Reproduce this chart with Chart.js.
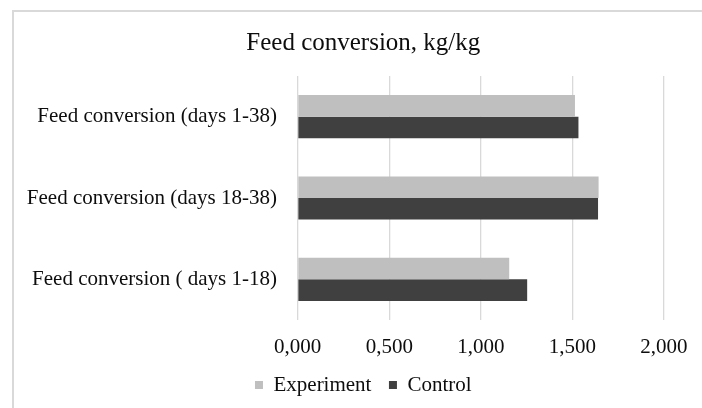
<!DOCTYPE html>
<html>
<head>
<meta charset="utf-8">
<script src="https://cdn.jsdelivr.net/npm/chart.js@4/dist/chart.umd.min.js"></script>
<style>
  html, body { margin: 0; padding: 0; background: #ffffff; }
  #wrap { position: relative; width: 702px; height: 408px; }
  #frame { position: absolute; left: 12px; top: 10px; right: 0; bottom: 0;
           border-left: 2px solid #d9d9d9; border-top: 2px solid #d9d9d9; pointer-events: none; }
  canvas { position: absolute; left: 0; top: 0; }
</style>
</head>
<body>
<div id="wrap">
  <canvas id="c" width="702" height="408"></canvas>
  <div id="frame"></div>
</div>
<script>
const titleText = 'Feed conversion, kg/kg';
const categories = ['Feed conversion (days 1-38)', 'Feed conversion (days 18-38)', 'Feed conversion ( days 1-18)'];
const seriesNames = ['Experiment', 'Control'];
const experimentValues = [1.514, 1.643, 1.155];
const controlValues = [1.533, 1.640, 1.253];
const xTickValues = [0, 0.5, 1.0, 1.5, 2.0];

const serif = "'Liberation Serif', 'Times New Roman', serif";
const textColor = '#0d0d0d';
const noClip = (s) => { s._computeLabelArea = () => undefined; };

new Chart(document.getElementById('c'), {
  type: 'bar',
  data: {
    labels: categories,
    datasets: [
      { label: seriesNames[0], data: experimentValues, backgroundColor: '#bfbfbf', borderWidth: 0,
        categoryPercentage: 0.53, barPercentage: 1.0 },
      { label: seriesNames[1], data: controlValues, backgroundColor: '#404040', borderWidth: 0,
        categoryPercentage: 0.53, barPercentage: 1.0 }
    ]
  },
  options: {
    indexAxis: 'y',
    responsive: false,
    animation: false,
    devicePixelRatio: 1,
    layout: { padding: { left: 57.6, right: 33, top: 0, bottom: 2.5 } },
    plugins: {
      title: {
        display: true, text: titleText, color: textColor,
        font: { family: serif, size: 25, weight: 'normal' },
        padding: { top: 28, bottom: 18 }
      },
      legend: {
        position: 'bottom',
        labels: {
          color: textColor, boxWidth: 8, boxHeight: 8, padding: 17.5,
          font: { family: serif, size: 21 }
        }
      },
      tooltip: { enabled: false }
    },
    scales: {
      x: {
        min: 0, max: 2,
        afterBuildTicks: (s) => { s.ticks = xTickValues.map(v => ({ value: v })); },
        afterFit: (s) => { s.height = 37; noClip(s); },
        grid: { color: '#d9d9d9', lineWidth: 1.3, drawTicks: false },
        border: { display: false },
        ticks: {
          padding: 14.4, color: textColor,
          font: { family: serif, size: 21 },
          callback: (v) => Number(v).toFixed(3).replace('.', ',')
        }
      },
      y: {
        afterFit: (s) => { s.width = 240.1; noClip(s); },
        grid: { display: false, drawTicks: false },
        border: { display: false },
        ticks: { padding: 20.7, color: textColor, font: { family: serif, size: 21 } }
      }
    }
  }
});
</script>
</body>
</html>
